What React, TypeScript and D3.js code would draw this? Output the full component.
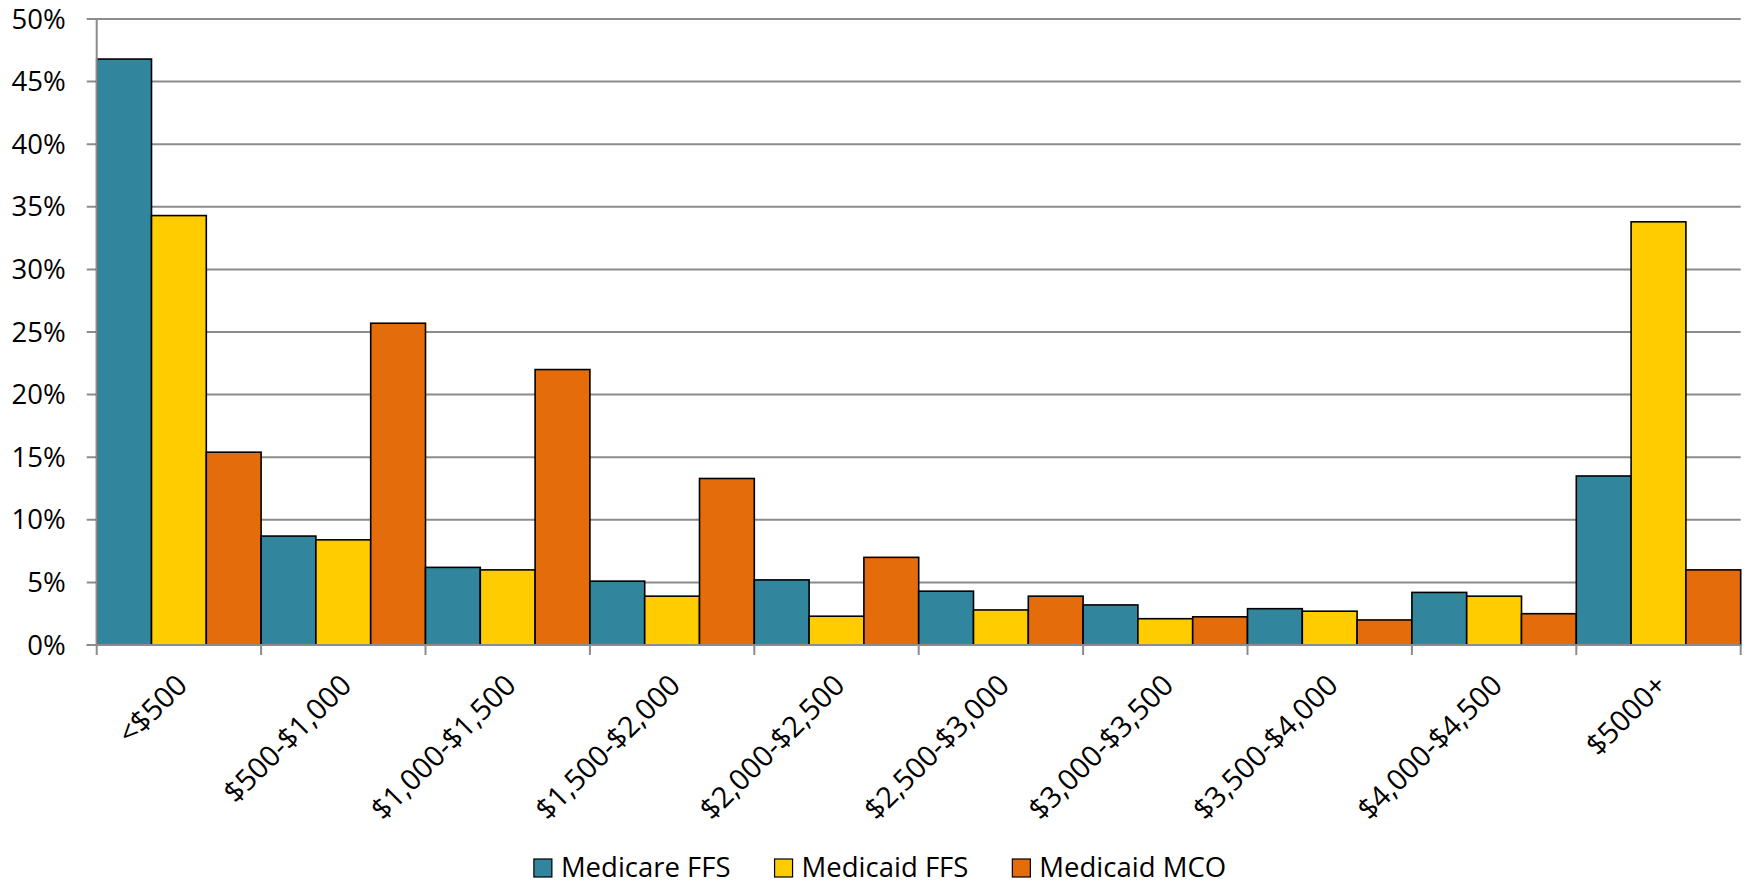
import React, { useEffect, useRef } from 'react';
import * as d3 from 'd3';

const categories = ['<$500', '$500-$1,000', '$1,000-$1,500', '$1,500-$2,000', '$2,000-$2,500',
  '$2,500-$3,000', '$3,000-$3,500', '$3,500-$4,000', '$4,000-$4,500', '$5000+'];
const seriesNames = ['Medicare FFS', 'Medicaid FFS', 'Medicaid MCO'];
const medicareFFS = [46.8, 8.7, 6.2, 5.1, 5.2, 4.3, 3.2, 2.9, 4.2, 13.5];
const medicaidFFS = [34.3, 8.4, 6.0, 3.9, 2.3, 2.8, 2.1, 2.7, 3.9, 33.8];
const medicaidMCO = [15.4, 25.7, 22.0, 13.3, 7.0, 3.9, 2.25, 2.0, 2.5, 6.0];
const yTicks = [0, 5, 10, 15, 20, 25, 30, 35, 40, 45, 50];

const colors = ['#31859c', '#ffcc00', '#e46c0a'];
const FONT = '"Open Sans", "Noto Sans", sans-serif';

const App: React.FC = () => {
  const ref = useRef<SVGSVGElement | null>(null);

  useEffect(() => {
    const W = 1746, H = 885;
    const left = 96.7, right = 1740.7, top = 19, bottom = 645;
    const svg = d3.select(ref.current);
    svg.selectAll('*').remove();

    const x = d3.scaleBand<string>().domain(categories).range([left, right]).padding(0);
    const xi = d3.scaleBand<string>().domain(seriesNames).range([0, x.bandwidth()]).padding(0);
    const y = d3.scaleLinear().domain([0, 50]).range([bottom, top]);
    const color = d3.scaleOrdinal<string>().domain(seriesNames).range(colors);

    const values = [medicareFFS, medicaidFFS, medicaidMCO];
    const rows = categories.flatMap((c, i) =>
      seriesNames.map((s, j) => ({ cat: c, series: s, value: values[j][i] })));

    // gridlines incl. left tick marks
    svg.append('g')
      .selectAll('line')
      .data(yTicks)
      .join('line')
      .attr('x1', left - 10)
      .attr('x2', right)
      .attr('y1', d => y(d))
      .attr('y2', d => y(d))
      .attr('stroke', '#8c8c8c')
      .attr('stroke-width', 2);

    // y labels
    svg.append('g')
      .selectAll('text')
      .data(yTicks)
      .join('text')
      .attr('x', left - 31)
      .attr('y', d => y(d))
      .attr('dy', '0.35em')
      .attr('text-anchor', 'end')
      .style('font-family', FONT)
      .style('font-size', '27.5px')
      .attr('fill', '#000')
      .text(d => `${d}%`);

    // bars
    svg.append('g')
      .selectAll('rect')
      .data(rows)
      .join('rect')
      .attr('x', d => (x(d.cat) || 0) + (xi(d.series) || 0))
      .attr('y', d => y(d.value))
      .attr('width', xi.bandwidth())
      .attr('height', d => y(0) - y(d.value))
      .attr('fill', d => color(d.series))
      .attr('stroke', '#000')
      .attr('stroke-width', 1.6);

    // axes lines
    svg.append('line')
      .attr('x1', left).attr('x2', left)
      .attr('y1', y(0)).attr('y2', y(50))
      .attr('stroke', '#8c8c8c').attr('stroke-width', 2);
    svg.append('line')
      .attr('x1', left - 10).attr('x2', right)
      .attr('y1', y(0)).attr('y2', y(0))
      .attr('stroke', '#8c8c8c').attr('stroke-width', 2);

    // x tick marks at category boundaries
    const bounds = categories.map(c => x(c) || 0).concat([right]);
    svg.append('g')
      .selectAll('line')
      .data(bounds)
      .join('line')
      .attr('x1', d => d).attr('x2', d => d)
      .attr('y1', y(0)).attr('y2', y(0) + 10)
      .attr('stroke', '#8c8c8c').attr('stroke-width', 2);

    // x labels rotated
    svg.append('g')
      .selectAll('text')
      .data(categories)
      .join('text')
      .attr('transform', d => `translate(${(x(d) || 0) + x.bandwidth() / 2 + 10},687) rotate(-45)`)
      .attr('text-anchor', 'end')
      .style('font-family', FONT)
      .style('font-size', '29px')
      .attr('fill', '#000')
      .text(d => d);

    // legend
    const legend = svg.append('g');
    const items = legend.selectAll('g')
      .data(seriesNames)
      .join('g');
    items.append('rect')
      .attr('width', 18)
      .attr('height', 18)
      .attr('y', 859)
      .attr('fill', d => color(d))
      .attr('stroke', '#000')
      .attr('stroke-width', 1.2);
    items.append('text')
      .attr('x', 27)
      .attr('y', 877)
      .style('font-family', FONT)
      .style('font-size', '27.5px')
      .attr('fill', '#000')
      .text(d => d);
    const widths: number[] = [];
    items.each(function () {
      const t = d3.select(this).select('text').node() as SVGTextElement;
      widths.push(27 + t.getComputedTextLength());
    });
    const gap = 44;
    const total = d3.sum(widths) + gap * (widths.length - 1);
    let cx = 880 - total / 2;
    items.attr('transform', (_, i) => {
      const tx = cx;
      cx += widths[i] + gap;
      return `translate(${tx},0)`;
    });

    svg.attr('width', W).attr('height', H);
  }, []);

  return (
    <svg ref={ref} width={1746} height={885}
      style={{ position: 'absolute', left: 0, top: 0, background: '#fff', display: 'block' }} />
  );
};

export default App;
